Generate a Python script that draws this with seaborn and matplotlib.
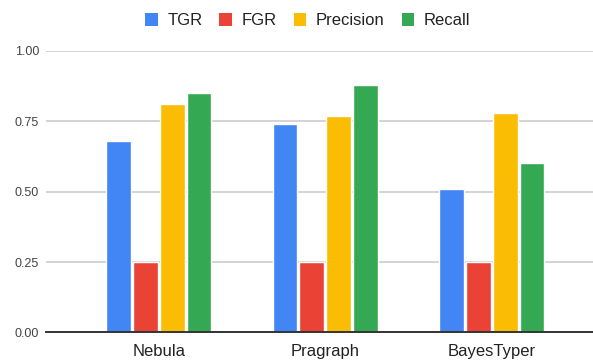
import matplotlib
matplotlib.use("Agg")
import matplotlib.pyplot as plt
from matplotlib.patches import Patch
import seaborn as sns
import pandas as pd

# Genotyping results per tool
tools = ["Nebula", "Pragraph", "BayesTyper"]
metrics = ["TGR", "FGR", "Precision", "Recall"]
tgr = [0.68, 0.74, 0.51]
fgr = [0.25, 0.25, 0.25]
precision = [0.81, 0.77, 0.78]
recall = [0.85, 0.88, 0.60]
y_ticks = [0.00, 0.25, 0.50, 0.75, 1.00]

colors = ["#4285F4", "#EA4335", "#FBBC04", "#34A853"]

series = {"TGR": tgr, "FGR": fgr, "Precision": precision, "Recall": recall}
rows = []
for metric in metrics:
    for tool, value in zip(tools, series[metric]):
        rows.append({"tool": tool, "metric": metric, "value": value})
df = pd.DataFrame(rows)

sns.set_theme(style="white")
plt.rcParams["font.family"] = ["Liberation Sans", "DejaVu Sans"]

fig = plt.figure(figsize=(5.93, 3.60), dpi=100)
ax = fig.add_axes([0.0776, 0.0764, 0.9224, 0.7827])

sns.barplot(data=df, x="tool", y="value", hue="metric", order=tools,
            hue_order=metrics, palette=colors, saturation=1,
            width=0.645, gap=0.08, legend=False, ax=ax)

ax.set_ylim(0, 1.0)
ax.set_xlim(-0.677, 2.608)
ax.set_yticks(y_ticks)
ax.set_yticklabels([f"{v:.2f}" for v in y_ticks])
ax.yaxis.grid(True, color="#CCCCCC", linewidth=1.2)
ax.set_axisbelow(True)
ax.set_xlabel("")
ax.set_ylabel("")
for side in ["top", "right", "left"]:
    ax.spines[side].set_visible(False)
ax.spines["bottom"].set_color("#333333")
ax.spines["bottom"].set_linewidth(1.4)
ax.spines["bottom"].set_zorder(5)
ax.tick_params(axis="y", length=0, pad=5, labelsize=9, labelcolor="#444444")
ax.tick_params(axis="x", length=0, pad=8, labelsize=12, labelcolor="#222222")

handles = [Patch(facecolor=c, edgecolor="none", label=m) for c, m in zip(colors, metrics)]
fig.legend(handles=handles, loc="center", bbox_to_anchor=(0.519, 0.942), ncol=4,
           frameon=False, fontsize=12, handlelength=0.75, handleheight=0.75,
           handletextpad=0.6, columnspacing=1.0, labelcolor="#222222")

fig.savefig("out.png", dpi=100)
